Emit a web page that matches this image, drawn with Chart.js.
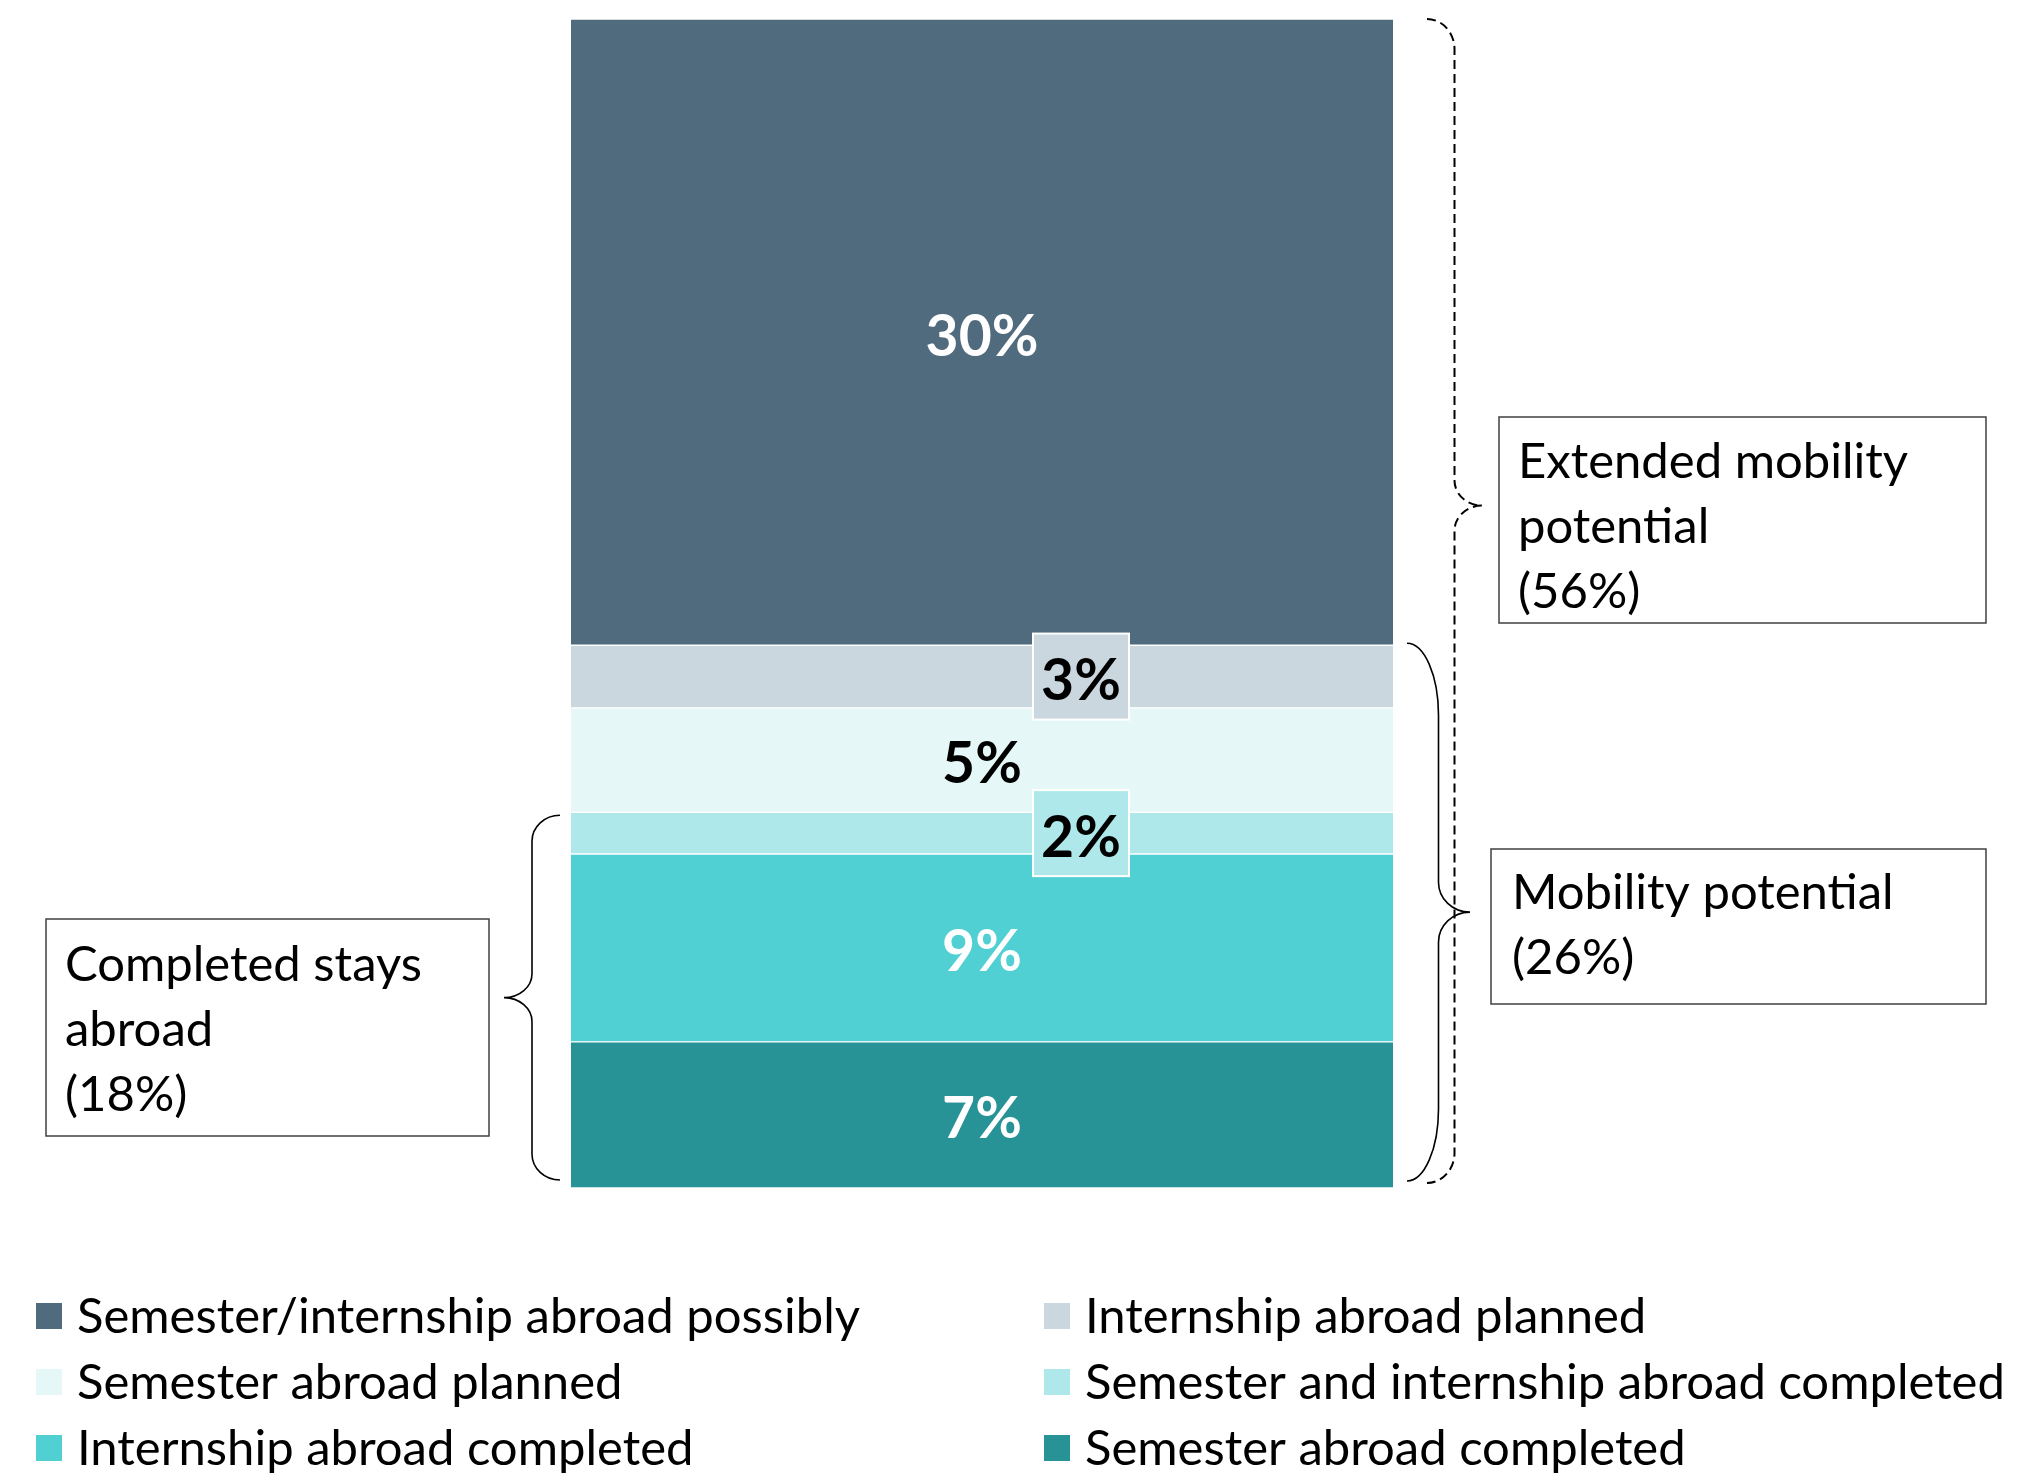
<!DOCTYPE html>
<html>
<head>
<meta charset="utf-8">
<script src="https://cdn.jsdelivr.net/npm/chart.js@4.4.0/dist/chart.umd.min.js"></script>
<style>
  html, body { margin: 0; padding: 0; background: #ffffff; }
  #wrap { width: 2038px; height: 1483px; position: relative; }
  canvas { display: block; }
</style>
</head>
<body>
<div id="wrap"><canvas id="chart" width="2038" height="1483"></canvas></div>
<script>
// Study-abroad status of students, stacked from the bottom up (percent)
const categories = ['Students'];
const seriesNames = [
  'Semester abroad completed',
  'Internship abroad completed',
  'Semester and internship abroad completed',
  'Semester abroad planned',
  'Internship abroad planned',
  'Semester/internship abroad possibly'
];
const seriesValues = [7, 9, 2, 5, 3, 30];

// Groupings summarised by the braces (number of series counted from the bottom)
const groupNames = ['Completed stays abroad', 'Mobility potential', 'Extended mobility potential'];
const groupSeriesCount = [3, 5, 6];
const groupLines = [['Completed stays', 'abroad'], ['Mobility potential'], ['Extended mobility', 'potential']];

// ---- styles ----
const palette = ['#279396', '#50D0D3', '#AEE8EA', '#E6F7F7', '#CBD7DF', '#4F6B7D'];
const labelInk = ['#ffffff', '#ffffff', '#000000', '#000000', '#000000', '#ffffff'];
const FONT = "Lato, 'Open Sans', sans-serif";

const total = seriesValues.reduce((a, b) => a + b, 0);

// Draws a curly brace; the tip points towards xTip
function brace(ctx, xEnd, xTip, yTop, yBot, yTip, rEnd, rTip) {
  const xs = (xEnd + xTip) / 2;
  const k = 0.552;
  ctx.beginPath();
  ctx.moveTo(xEnd, yTop);
  ctx.bezierCurveTo(xEnd + k * (xs - xEnd), yTop, xs, yTop + rEnd - k * rEnd, xs, yTop + rEnd);
  ctx.lineTo(xs, yTip - rTip);
  ctx.bezierCurveTo(xs, yTip - rTip + k * rTip, xTip - k * (xTip - xs), yTip, xTip, yTip);
  ctx.bezierCurveTo(xTip - k * (xTip - xs), yTip, xs, yTip + rTip - k * rTip, xs, yTip + rTip);
  ctx.lineTo(xs, yBot - rEnd);
  ctx.bezierCurveTo(xs, yBot - rEnd + k * rEnd, xEnd + k * (xs - xEnd), yBot, xEnd, yBot);
  ctx.stroke();
}

// Value labels inside the segments; thin segments get a small boxed label beside centre
const valueLabels = {
  id: 'valueLabels',
  afterDatasetsDraw(chart) {
    const ctx = chart.ctx;
    ctx.save();
    ctx.font = 'bold 57px ' + FONT;
    ctx.textAlign = 'center';
    ctx.textBaseline = 'middle';
    chart.data.datasets.forEach((ds, i) => {
      const el = chart.getDatasetMeta(i).data[0];
      const v = ds.data[0];
      let cx = el.x;
      const cy = (el.y + el.base) / 2;
      if (v <= 3) {
        cx = el.x + 99;
        ctx.fillStyle = palette[i];
        ctx.fillRect(cx - 48, cy - 43, 96, 86);
        ctx.strokeStyle = '#ffffff';
        ctx.lineWidth = 2;
        ctx.strokeRect(cx - 48, cy - 43, 96, 86);
      }
      ctx.fillStyle = labelInk[i];
      ctx.fillText(v + '%', cx, cy + 5);
    });
    ctx.restore();
  }
};

// Braces, their caption boxes and the two-column legend
const annotations = {
  id: 'annotations',
  afterDraw(chart) {
    const ctx = chart.ctx;
    const y = chart.scales.y;
    const sums = groupSeriesCount.map(n => seriesValues.slice(0, n).reduce((a, b) => a + b, 0));
    ctx.save();

    // braces
    ctx.strokeStyle = '#000000';
    ctx.lineWidth = 1.6;
    ctx.setLineDash([]);
    const c0t = y.getPixelForValue(sums[0]) + 3, c0b = y.getPixelForValue(0) - 8;
    brace(ctx, 560, 504, c0t, c0b, (c0t + c0b) / 2, 26, 24);
    const c1t = y.getPixelForValue(sums[1]) - 2, c1b = y.getPixelForValue(0) - 7;
    brace(ctx, 1407, 1470, c1t, c1b, (c1t + c1b) / 2, 72, 30);
    ctx.lineWidth = 2;
    ctx.setLineDash([9, 5]);
    const c2t = y.getPixelForValue(sums[2]), c2b = y.getPixelForValue(0) - 5;
    brace(ctx, 1427, 1482, c2t, c2b, c2t + (c2b - c2t) * 0.418, 30, 25);
    ctx.setLineDash([]);

    // caption boxes
    const boxes = [
      { x: 46, y: 919, w: 443, h: 217, tx: 65, ty: 965 },
      { x: 1491, y: 849, w: 495, h: 155, tx: 1512, ty: 893 },
      { x: 1499, y: 417, w: 487, h: 206, tx: 1518, ty: 462 }
    ];
    ctx.font = '49px ' + FONT;
    ctx.textAlign = 'left';
    ctx.textBaseline = 'middle';
    boxes.forEach((b, i) => {
      ctx.fillStyle = '#ffffff';
      ctx.fillRect(b.x, b.y, b.w, b.h);
      ctx.strokeStyle = '#404040';
      ctx.lineWidth = 1.5;
      ctx.strokeRect(b.x, b.y, b.w, b.h);
      ctx.fillStyle = '#000000';
      const lines = groupLines[i].concat(['(' + sums[i] + '%)']);
      lines.forEach((t, j) => ctx.fillText(t, b.tx, b.ty + j * 65));
    });

    // legend: top series first, two per row
    const order = seriesNames.map((_, i) => seriesNames.length - 1 - i);
    const colX = [36, 1044];
    ctx.font = '49px ' + FONT;
    order.forEach((si, k) => {
      const col = k % 2, row = Math.floor(k / 2);
      const x = colX[col], cy = 1316 + row * 66;
      ctx.fillStyle = palette[si];
      ctx.fillRect(x, cy - 13, 26, 26);
      ctx.fillStyle = '#000000';
      ctx.fillText(seriesNames[si], x + 41, cy + 1);
    });
    ctx.restore();
  }
};

function build() {
  new Chart(document.getElementById('chart'), {
    type: 'bar',
    data: {
      labels: categories,
      datasets: seriesNames.map((name, i) => ({
        label: name,
        data: [seriesValues[i]],
        backgroundColor: palette[i],
        borderColor: '#ffffff',
        borderWidth: { top: 1, bottom: 1, left: 0, right: 0 },
        borderSkipped: false,
        barPercentage: 1,
        categoryPercentage: 1
      }))
    },
    options: {
      responsive: false,
      animation: false,
      devicePixelRatio: 1,
      layout: { padding: { left: 571, right: 645, top: 19, bottom: 295 } },
      scales: {
        x: { stacked: true, display: false },
        y: { stacked: true, display: false, min: 0, max: total }
      },
      plugins: { legend: { display: false }, tooltip: { enabled: false } }
    },
    plugins: [valueLabels, annotations]
  });
}

if (document.fonts && document.fonts.load) {
  Promise.all([document.fonts.load('49px Lato'), document.fonts.load('bold 57px Lato')])
    .then(build, build);
} else {
  build();
}
</script>
</body>
</html>
